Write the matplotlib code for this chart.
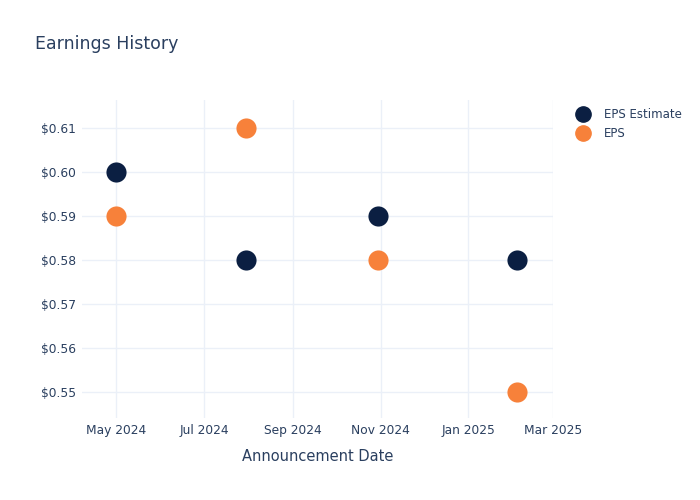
import matplotlib.pyplot as plt
import matplotlib.dates as mdates
import pandas as pd
from matplotlib.lines import Line2D

# Data
dates = pd.to_datetime(["2024-05-01", "2024-07-30", "2024-10-30", "2025-02-04"])
eps_estimate = [0.60, 0.58, 0.59, 0.58]
eps_actual = [0.59, 0.61, 0.58, 0.55]
series_names = ["EPS Estimate", "EPS"]

# Style
navy = "#0b1f42"
orange = "#f7813a"
text_color = "#2a3f5f"
grid_color = "#ebf0f8"

fig = plt.figure(figsize=(7, 5), dpi=100)
ax = fig.add_axes([0.117, 0.164, 0.673, 0.636])

ax.scatter(dates, eps_estimate, s=210, color=navy, zorder=3, linewidths=0)
ax.scatter(dates, eps_actual, s=210, color=orange, zorder=3, linewidths=0)

ax.set_xlim(pd.Timestamp("2024-04-07"), pd.Timestamp("2025-03-01"))
ax.set_ylim(0.5440, 0.6164)

ax.xaxis.set_major_locator(mdates.MonthLocator(bymonth=[1, 3, 5, 7, 9, 11]))
ax.xaxis.set_major_formatter(mdates.DateFormatter("%b %Y"))
ax.set_yticks([0.55, 0.56, 0.57, 0.58, 0.59, 0.60, 0.61])
ax.yaxis.set_major_formatter(plt.FuncFormatter(lambda v, _: f"${v:.2f}"))

ax.grid(True, color=grid_color, linewidth=1)
ax.set_axisbelow(True)
for s in ax.spines.values():
    s.set_visible(False)
ax.tick_params(length=0, labelsize=8.8, colors=text_color)
ax.tick_params(axis="y", pad=4)
ax.tick_params(axis="x", pad=4)

ax.set_xlabel("Announcement Date", fontsize=10.5, color=text_color, labelpad=9)

fig.text(35 / 700, 1 - 44 / 500, "Earnings History", fontsize=12.5,
         color=text_color, va="center", ha="left")

handles = [
    Line2D([], [], marker="o", linestyle="", markersize=11, color=navy),
    Line2D([], [], marker="o", linestyle="", markersize=11, color=orange),
]
leg = fig.legend(handles, series_names, loc="upper left",
                 bbox_to_anchor=(577 / 700, 1 - 108 / 500), frameon=False,
                 fontsize=8.5, handletextpad=1.3, labelspacing=0.55,
                 handlelength=1.0, borderaxespad=0, borderpad=0)
for t in leg.get_texts():
    t.set_color(text_color)

fig.savefig("out.png", dpi=100)
